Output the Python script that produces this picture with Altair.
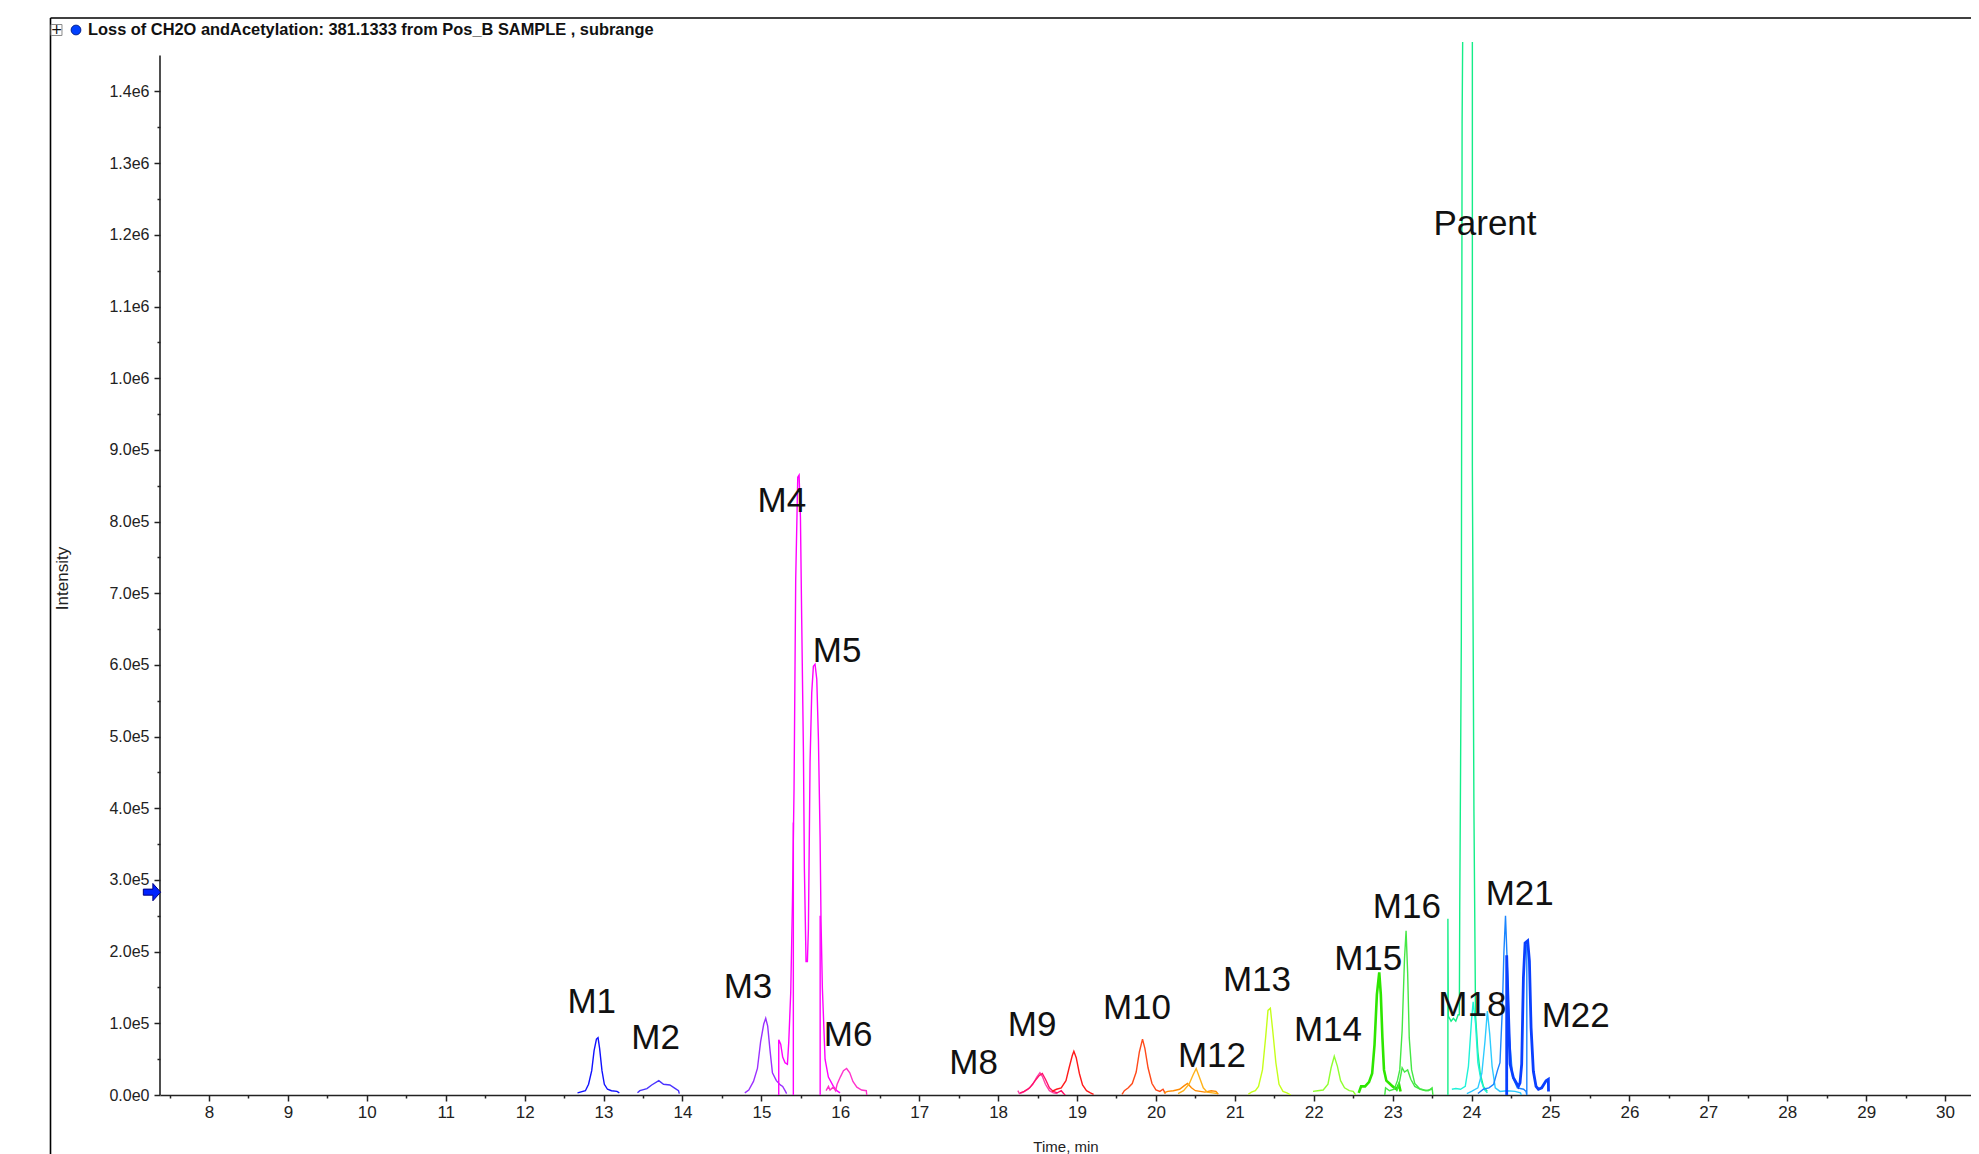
import altair as alt
import pandas as pd

# ---------------- data ----------------
TITLE = "Loss of CH2O andAcetylation: 381.1333 from Pos_B SAMPLE , subrange"

X_DOMAIN = [7.379, 30.329]
Y_DOMAIN = [0, 1469000]
Y_AXIS_TOP = [1450000]
X_TICKS = [x / 2 for x in range(15, 61)]
Y_TICKS = [i * 50000 for i in range(0, 29)]
ARROW_V = [283000]

M1_T = [12.67, 12.77, 12.81, 12.85, 12.88, 12.91, 12.93, 12.95, 12.98, 13.01, 13.05, 13.10, 13.17, 13.20]
M1_V = [3000, 6000, 15000, 34000, 62000, 78000, 80000, 65000, 34000, 15000, 8000, 6000, 5000, 3000]

M2_T = [13.43, 13.46, 13.55, 13.61, 13.70, 13.76, 13.84, 13.91, 13.95, 13.96]
M2_V = [3000, 6000, 9000, 14000, 20000, 15000, 14000, 9000, 6000, 2000]

M3_T = [14.79, 14.84, 14.90, 14.95, 14.99, 15.03, 15.055, 15.08, 15.11, 15.14, 15.19, 15.24, 15.27, 15.30, 15.32]
M3_V = [3000, 7000, 19000, 37000, 74000, 99000, 107000, 96000, 62000, 31000, 20000, 14000, 12000, 6000, 2000]

M45_T = [15.22, 15.22, 15.245, 15.27, 15.30, 15.33, 15.347, 15.372, 15.393, 15.414,
         15.435, 15.461, 15.478, 15.495, 15.511, 15.533, 15.545, 15.566, 15.583, 15.596,
         15.617, 15.638, 15.659, 15.680, 15.702, 15.723, 15.744, 15.756, 15.773, 15.807,
         15.849, 15.913, 15.955, 15.997]
M45_V = [0, 77000, 71000, 53000, 45000, 43000, 74000, 143000, 264000, 428000,
         719000, 862000, 865000, 806000, 663000, 477000, 316000, 186000, 186000, 232000,
         465000, 561000, 598000, 601000, 580000, 496000, 360000, 242000, 149000, 50000,
         25000, 12000, 6000, 3000]
M4E_T = [15.405, 15.405]
M4E_V = [0, 380000]
M5E_T = [15.745, 15.745]
M5E_V = [0, 250000]

M6_T = [15.82, 15.85, 15.87, 15.91, 15.94, 15.96, 16.00, 16.04, 16.08, 16.12, 16.16, 16.21, 16.27, 16.33, 16.335]
M6_V = [6000, 12000, 7000, 11000, 6000, 15000, 25000, 34000, 37000, 31000, 19000, 11000, 7000, 6000, 0]

M8_T = [18.25, 18.27, 18.32, 18.38, 18.44, 18.49, 18.53, 18.56, 18.60, 18.65, 18.70, 18.75]
M8_V = [6000, 2000, 4000, 8000, 15000, 25000, 31000, 26000, 15000, 6000, 3000, 2000]

M9_T = [18.28, 18.33, 18.40, 18.47, 18.52, 18.56, 18.60, 18.65, 18.70, 18.75, 18.80, 18.83, 18.85]
M9_V = [3000, 5000, 10000, 20000, 27000, 30000, 22000, 10000, 5000, 3000, 6000, 2000, 0]

R19_T = [18.68, 18.74, 18.80, 18.86, 18.90, 18.94, 18.96, 18.99, 19.03, 19.07, 19.12, 19.17, 19.21]
R19_V = [5000, 8000, 10000, 20000, 38000, 55000, 61000, 52000, 30000, 14000, 6000, 3000, 1000]

M10_T = [19.57, 19.60, 19.65, 19.70, 19.75, 19.79, 19.83, 19.86, 19.90, 19.95, 20.00, 20.05, 20.09, 20.12]
M10_V = [1000, 6000, 10000, 16000, 32000, 60000, 78000, 65000, 38000, 16000, 7000, 5000, 8000, 2000]

M12A_T = [20.10, 20.15, 20.22, 20.30, 20.36, 20.40, 20.45, 20.50, 20.56, 20.62, 20.70, 20.76, 20.79]
M12A_V = [3000, 5000, 6000, 8000, 13000, 16000, 10000, 6000, 5000, 4000, 6000, 5000, 1000]
M12B_T = [20.28, 20.35, 20.42, 20.47, 20.51, 20.55, 20.60, 20.65, 20.72, 20.78]
M12B_V = [2000, 6000, 15000, 28000, 37000, 25000, 10000, 4000, 3000, 2000]

M13_T = [21.17, 21.21, 21.26, 21.30, 21.35, 21.39, 21.42, 21.45, 21.48, 21.52, 21.56, 21.61, 21.66, 21.71]
M13_V = [1000, 4000, 6000, 12000, 35000, 80000, 118000, 121000, 90000, 45000, 15000, 5000, 3000, 0]

M14_T = [21.99, 22.05, 22.12, 22.18, 22.22, 22.26, 22.30, 22.34, 22.39, 22.45, 22.50, 22.53]
M14_V = [5000, 6000, 7000, 15000, 38000, 54000, 40000, 20000, 10000, 6000, 5000, 0]

M15_T = [22.57, 22.60, 22.65, 22.70, 22.74, 22.77, 22.80, 22.83, 22.85, 22.87, 22.89, 22.92, 22.96, 23.00, 23.05, 23.08, 23.10]
M15_V = [3000, 12000, 12000, 18000, 30000, 70000, 140000, 171000, 140000, 80000, 35000, 20000, 16000, 12000, 8000, 15000, 5000]

M16_T = [22.90, 22.91, 22.96, 23.02, 23.06, 23.09, 23.12, 23.15, 23.17, 23.19, 23.21, 23.24, 23.28, 23.34, 23.40, 23.45, 23.50, 23.51]
M16_V = [0, 10000, 6000, 8000, 20000, 35000, 90000, 190000, 229000, 170000, 80000, 35000, 16000, 9000, 7000, 6000, 10000, 0]
M16B_T = [23.05, 23.09, 23.12, 23.15, 23.19, 23.23, 23.28, 23.35, 23.42, 23.50]
M16B_V = [5000, 20000, 38000, 32000, 35000, 22000, 12000, 8000, 6000, 8000]

PARENT_T = [23.70, 23.70, 23.705, 23.74, 23.77, 23.80, 23.83, 23.845, 23.85, 23.87, 23.88, 23.895,
            24.01, 24.01, 24.03, 24.05, 24.08, 24.11, 24.15, 24.20]
PARENT_V = [0, 246000, 110000, 103000, 107000, 103000, 112000, 112000, 256000, 636000, 1356000, 1600000,
            1600000, 877000, 395000, 112000, 60000, 30000, 12000, 5000]

M18_T = [23.75, 23.80, 23.86, 23.92, 23.96, 24.00, 24.02, 24.05, 24.08, 24.12, 24.16, 24.20]
M18_V = [8000, 9000, 8000, 12000, 40000, 105000, 130000, 100000, 45000, 20000, 8000, 3000]

M19_T = [23.94, 24.00, 24.08, 24.13, 24.17, 24.20, 24.23, 24.26, 24.30, 24.36, 24.45, 24.55, 24.62, 24.63]
M19_V = [2000, 5000, 10000, 30000, 75000, 117000, 85000, 40000, 10000, 5000, 6000, 5000, 3000, 0]

M21_T = [24.08, 24.15, 24.22, 24.28, 24.33, 24.36, 24.39, 24.41, 24.43, 24.45, 24.48, 24.52, 24.58, 24.66, 24.69, 24.70, 24.70]
M21_V = [2000, 8000, 10000, 15000, 35000, 45000, 120000, 200000, 250000, 190000, 80000, 25000, 10000, 8000, 5000, 0, 210000]

M22_T = [24.445, 24.445, 24.46, 24.488, 24.53, 24.593, 24.614, 24.635, 24.657, 24.678, 24.711, 24.733,
         24.754, 24.783, 24.817, 24.847, 24.889, 24.944, 24.973, 24.975]
M22_V = [0, 195000, 140000, 43000, 24000, 12000, 17000, 43000, 164000, 212000, 215000, 187000,
         94000, 33000, 12000, 8000, 10000, 20000, 22000, 5000]

LABEL_TEXT = ["M1", "M2", "M3", "M4", "M5", "M6", "M8", "M9", "M10", "M12", "M13", "M14",
              "M15", "M16", "Parent", "M18", "M21", "M22"]
LABEL_T = [12.85, 13.66, 14.83, 15.26, 15.96, 16.10, 17.69, 18.43, 19.76, 20.71, 21.28, 22.18,
           22.69, 23.18, 24.17, 24.01, 24.61, 25.32]
LABEL_V = [130000, 80000, 150000, 829000, 619000, 84000, 44000, 98000, 122000, 54000, 161000, 90000,
           190000, 262000, 1215000, 125000, 280000, 110000]

# ---------------- styles ----------------
TRACES = [
    ("M1", M1_T, M1_V, "#1010ff", 1.4),
    ("M2", M2_T, M2_V, "#4a33ff", 1.4),
    ("M3", M3_T, M3_V, "#9b30ff", 1.4),
    ("M45", M45_T, M45_V, "#ff00ff", 1.4),
    ("M4E", M4E_T, M4E_V, "#ff00ff", 1.4),
    ("M5E", M5E_T, M5E_V, "#ff00ff", 1.4),
    ("M6", M6_T, M6_V, "#ff33cc", 1.4),
    ("M8", M8_T, M8_V, "#ff40a8", 1.4),
    ("M9", M9_T, M9_V, "#ff1068", 1.4),
    ("R19", R19_T, R19_V, "#ff1a1a", 1.4),
    ("M10", M10_T, M10_V, "#ff4a1a", 1.4),
    ("M12A", M12A_T, M12A_V, "#ff8a00", 1.4),
    ("M12B", M12B_T, M12B_V, "#ffb31a", 1.4),
    ("M13", M13_T, M13_V, "#c6ff1a", 1.4),
    ("M14", M14_T, M14_V, "#90ff30", 1.4),
    ("M15", M15_T, M15_V, "#2ee600", 2.6),
    ("M16B", M16B_T, M16B_V, "#44e844", 1.4),
    ("M16", M16_T, M16_V, "#44e844", 1.4),
    ("Parent", PARENT_T, PARENT_V, "#14ee88", 1.4),
    ("M18", M18_T, M18_V, "#1ff2d8", 1.4),
    ("M19", M19_T, M19_V, "#2ecbff", 1.4),
    ("M21", M21_T, M21_V, "#1a85ff", 1.4),
    ("M22", M22_T, M22_V, "#0a40ff", 2.8),
]

rows = []
for name, ts, vs, col, w in TRACES:
    for i, (t, v) in enumerate(zip(ts, vs)):
        rows.append({"trace": name, "t": t, "v": v, "i": i, "w": w})
lines_df = pd.DataFrame(rows)

FONT = "Liberation Sans, Arial, sans-serif"
X_SCALE = alt.Scale(domain=X_DOMAIN, nice=False, zero=False)
Y_SCALE = alt.Scale(domain=Y_DOMAIN, nice=False, zero=False)

x_axis = alt.Axis(
    values=X_TICKS, title="Time, min", grid=False,
    labelExpr="datum.value % 1 === 0 ? format(datum.value, 'd') : ''",
    tickSize={"condition": {"test": "datum.value % 1 === 0", "value": 6}, "value": 3},
    labelFont=FONT, labelFontSize=17, labelColor="#222", labelPadding=3,
    labelOverlap=False, labelFlush=False,
    tickColor="#222", tickWidth=1.5, domainColor="#222", domainWidth=1.6,
    titleFont=FONT, titleFontSize=15, titleFontWeight="normal", titleColor="#222",
    titleY=51, titleBaseline="middle",
)
y_axis = alt.Axis(
    values=Y_TICKS, title="Intensity", grid=False, domain=False,
    labelExpr="datum.value % 100000 === 0 ? replace(format(datum.value, '.1e'), '+', '') : ''",
    tickSize={"condition": {"test": "datum.value % 100000 === 0", "value": 6}, "value": 3},
    labelFont=FONT, labelFontSize=16, labelColor="#222", labelPadding=5,
    labelOverlap=False, labelFlush=False,
    tickColor="#222", tickWidth=1.5,
    titleFont=FONT, titleFontSize=17, titleFontWeight="normal", titleColor="#222",
    titleX=-98, titleY=536, titleAngle=270, titleAlign="center", titleBaseline="middle",
)

X_ENC = alt.X("t:Q", scale=X_SCALE, axis=x_axis)
Y_ENC = alt.Y("v:Q", scale=Y_SCALE, axis=y_axis)

lines = alt.Chart(lines_df).mark_line(clip=True, interpolate="linear").encode(
    x=X_ENC,
    y=Y_ENC,
    color=alt.Color("trace:N", scale=alt.Scale(domain=[t[0] for t in TRACES], range=[t[3] for t in TRACES]), legend=None),
    strokeWidth=alt.StrokeWidth("w:Q", scale=None, legend=None),
    order=alt.Order("i:Q"),
)

yline = alt.Chart(pd.DataFrame({"v": [0], "v2": Y_AXIS_TOP})).mark_rule(color="#222", strokeWidth=1.6).encode(
    x=alt.value(0),
    y=Y_ENC,
    y2="v2:Q",
)

labels = alt.Chart(pd.DataFrame({"t": LABEL_T, "v": LABEL_V, "txt": LABEL_TEXT})).mark_text(
    font=FONT, fontSize=35, color="#111", align="center", baseline="middle"
).encode(
    x=X_ENC,
    y=Y_ENC,
    text="txt:N",
)

ARROW_PATH = "M-1,-0.35 L0.1,-0.35 L0.1,-1 L1,0 L0.1,1 L0.1,0.35 L-1,0.35 Z"
arrow = alt.Chart(pd.DataFrame({"v": ARROW_V})).mark_point(
    shape=ARROW_PATH, filled=True, fill="#0022ff", stroke="#000080", strokeWidth=1, size=300, opacity=1
).encode(
    x=alt.value(-8),
    y=Y_ENC,
)

one = pd.DataFrame({"k": [0]})
frame_top = alt.Chart(one).mark_rule(color="black", strokeWidth=1.6).encode(
    x=alt.value(-109.5), x2=alt.value(1811), y=alt.value(-24)
)
frame_left = alt.Chart(one).mark_rule(color="black", strokeWidth=1.6).encode(
    x=alt.value(-109.5), y=alt.value(-24), y2=alt.value(1120)
)
plus_box = alt.Chart(one).mark_point(
    shape="square", filled=True, fill="white", stroke="#888", strokeWidth=1, size=120, opacity=1
).encode(x=alt.value(-103.5), y=alt.value(-12))
plus_txt = alt.Chart(one).mark_text(
    text="+", font="DejaVu Sans", fontSize=14, color="#111", align="center", baseline="middle"
).encode(x=alt.value(-103.5), y=alt.value(-12))
dot = alt.Chart(one).mark_point(
    shape="circle", filled=True, fill="#0040ff", stroke="#002090", strokeWidth=1, size=95, opacity=1
).encode(x=alt.value(-84), y=alt.value(-12))
title = alt.Chart(one).mark_text(
    text=TITLE, font=FONT, fontSize=16.4, fontWeight="bold", color="#111", align="left", baseline="middle"
).encode(x=alt.value(-72), y=alt.value(-12))

chart = alt.layer(
    lines, yline, labels, arrow, frame_top, frame_left, plus_box, plus_txt, dot, title
).properties(
    width=1811, height=1053,
    padding={"left": 152, "top": 34, "right": 0, "bottom": 62},
    autosize=alt.AutoSizeParams(type="none"),
    background="white",
).configure_view(stroke=None)

chart.save("out.html", embed_options={"renderer": "svg", "actions": False})
